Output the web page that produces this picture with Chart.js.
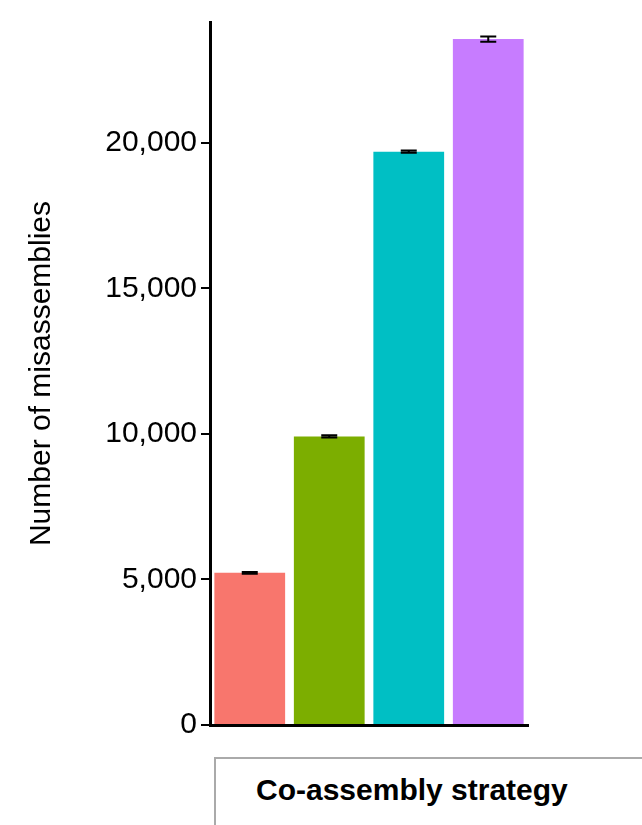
<!DOCTYPE html>
<html><head><meta charset="utf-8">
<script src="https://cdn.jsdelivr.net/npm/chart.js@4"></script>
<style>html,body{margin:0;padding:0;background:#fff;overflow:hidden}
#wrap{position:relative;width:642px;height:825px}
#strip{position:absolute;left:214px;top:757px;width:440px;height:80px;border:2px solid #aaa;box-sizing:border-box;background:#fff;font:bold 30px "Liberation Sans",Arial,sans-serif;color:#000;padding-top:14px;padding-left:40px}
</style></head><body>
<div id="wrap"><canvas id="c" width="642" height="825"></canvas><div id="strip">Co-assembly strategy</div></div>
<script>
const categories=["A","B","C","D"];
const values=[5230,9915,19695,23565];
const errors=[30,35,40,90];
const colors=["#F8766D","#7CAE00","#00BFC4","#C77CFF"];
const yTicks=[0,5000,10000,15000,20000];
const errPlugin={id:'err',afterDatasetsDraw(ch){const c=ch.ctx,m=ch.getDatasetMeta(0),y=ch.scales.y;c.save();c.strokeStyle='#000';c.lineWidth=2;
m.data.forEach((b,i)=>{const t=y.getPixelForValue(values[i]+errors[i]),bo=y.getPixelForValue(values[i]-errors[i]);c.beginPath();c.moveTo(b.x,t);c.lineTo(b.x,bo);c.moveTo(b.x-8,t);c.lineTo(b.x+8,t);c.moveTo(b.x-8,bo);c.lineTo(b.x+8,bo);c.stroke();});c.restore();}};
new Chart(document.getElementById('c'),{type:'bar',
data:{labels:categories,datasets:[{data:values,backgroundColor:colors,barPercentage:0.89,categoryPercentage:1}]},
options:{responsive:false,animation:false,plugins:{legend:{display:false},tooltip:{enabled:false}},
layout:{padding:{left:20,right:114,top:15,bottom:0}},
scales:{x:{afterFit(s){s.height=100},grid:{display:false},ticks:{display:false},border:{display:true,color:'#000',width:3}},
y:{min:0,max:24150,afterFit(s){s.width=190},afterBuildTicks(s){s.ticks=yTicks.map(v=>({value:v}))},
grid:{drawOnChartArea:false,color:'#000',lineWidth:2,tickLength:9},border:{color:'#000',width:3},
ticks:{color:'#000',font:{size:30,family:'Liberation Sans'},padding:4,callback:v=>v.toLocaleString('en-US')},
title:{display:true,text:'Number of misassemblies',color:'#000',font:{size:30,family:'Liberation Sans'},padding:{bottom:4}}}}},
plugins:[errPlugin]});
</script></body></html>
